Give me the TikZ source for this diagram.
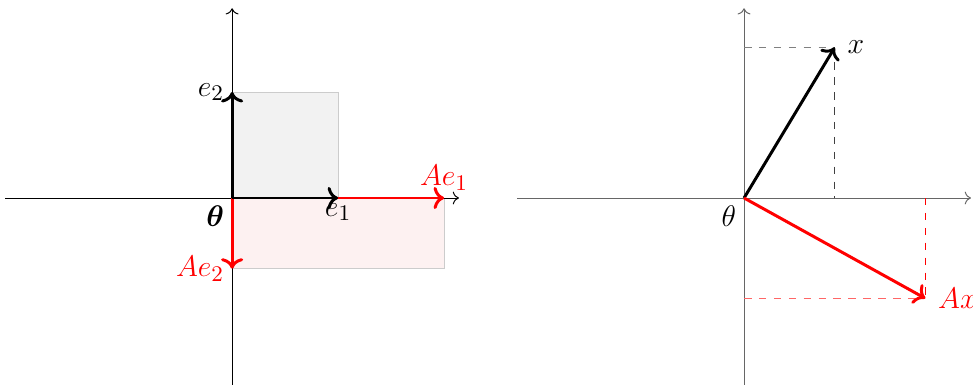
\documentclass[tikz,border=0pt]{standalone}
\usepackage{amsmath}
\usetikzlibrary{arrows.meta}
\definecolor{boxgray}{HTML}{F2F2F2}
\definecolor{boxpink}{HTML}{FDF1F1}
\definecolor{boxline}{HTML}{CCCCCC}
\tikzset{
  axis/.style={->, line width=0.4pt},
  faxis/.style={axis, draw=black!60},
  vec/.style={->, line width=1.2pt},
  imvec/.style={vec, draw=red},
  unitbox/.style={fill=boxgray, draw=boxline, line width=0.4pt},
  imbox/.style={fill=boxpink, draw=boxline, line width=0.4pt},
  guide/.style={dashed, line width=0.4pt, draw=black!75},
  faintguide/.style={guide, draw=black!50},
  imguide/.style={dashed, line width=0.4pt, draw=red},
  faintimguide/.style={imguide, draw=red!60},
  lab/.style={font=\fontsize{13}{15}\selectfont, inner sep=3pt},
  imlab/.style={lab, text=red}
}
\begin{document}
\begin{tikzpicture}[x=1.5cm, y=1.5cm]
\useasboundingbox (-2.19,-1.774) rectangle (6.99,1.868);

% Left: unit vectors and their images.
\coordinate (O) at (0,0);
\coordinate (e1) at (1,0);
\coordinate (e2) at (0,1);
\coordinate (Ae1) at (2,0);
\coordinate (Ae2) at (0,-0.667);

\draw[unitbox] (O) rectangle (1,1);
\draw[imbox] (O) rectangle (2,-0.667);

\coordinate (xl) at (-2.14,0);
\coordinate (xr) at (2.14,0);
\coordinate (yb) at (0,-1.76);
\coordinate (yt) at (0,1.79);
\draw[axis] (xl) -- (xr);
\draw[axis] (yb) -- (yt);

\draw[imvec] (O) -- (Ae1);
\draw[imvec] (O) -- (Ae2);
\draw[vec] (O) -- (e1);
\draw[vec] (O) -- (e2);

\node[lab, left] (le2) at (e2) {$e_2$};
\node[lab, below, inner sep=2pt] (le1) at (e1) {$e_1$};
\node[imlab, above] (lAe1) at (Ae1) {$Ae_1$};
\node[imlab, left] (lAe2) at (Ae2) {$Ae_2$};
\node[lab, below left] (lO) at (O) {$\boldsymbol{\theta}$};

% Right: a vector x and its image Ax.
\begin{scope}[xshift=4.83*1.5cm]
\coordinate (P) at (0,0);
\coordinate (x) at (0.855,1.42);
\coordinate (Ax) at (1.71,-0.947);
\coordinate (xx) at (0.855,0);
\coordinate (xy) at (0,1.42);
\coordinate (Axx) at (1.71,0);
\coordinate (Axy) at (0,-0.947);

\coordinate (pl) at (-2.14,0);
\coordinate (pr) at (2.14,0);
\coordinate (pb) at (0,-1.76);
\coordinate (pt) at (0,1.79);
\draw[faxis] (pl) -- (pr);
\draw[faxis] (pb) -- (pt);

\draw[faintguide] (xy) -- (x);
\draw[guide] (x) -- (xx);
\draw[imguide] (Axx) -- (Ax);
\draw[faintimguide] (Axy) -- (Ax);

\draw[vec] (P) -- (x);
\draw[imvec] (P) -- (Ax);

\node[lab, right, xshift=2pt] (lx) at (x) {$x$};
\node[imlab, right, xshift=2pt] (lAx) at (Ax) {$Ax$};
\node[lab, below left] (lP) at (P) {$\theta$};
\end{scope}
\end{tikzpicture}
\end{document}
